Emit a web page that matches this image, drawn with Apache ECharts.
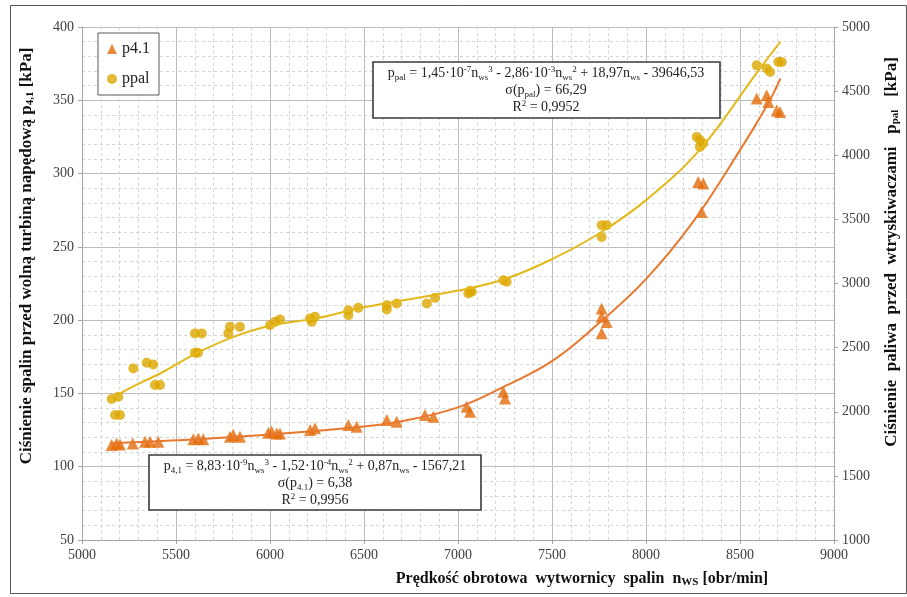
<!DOCTYPE html>
<html>
<head>
<meta charset="utf-8">
<script src="https://cdn.jsdelivr.net/npm/echarts@6/dist/echarts.min.js"></script>
<style>
html,body{margin:0;padding:0;background:#fff;}
#c{width:907px;height:597px;}
</style>
</head>
<body>
<div id="c"></div>
<script>
// ---- axis ranges [min, max, interval] ----
const xRange = [5000, 9000, 500];
const yLeftRange = [50, 400, 50];
const yRightRange = [1000, 5000, 500];

// ---- p4.1 measurements (left axis, kPa) ----
const p41_n = [5158,5184,5202,5270,5335,5362,5406,5592,5619,5645,5787,5805,5840,5991,6009,6036,6053,6213,6239,6417,6461,6621,6674,6824,6869,7046,7064,7241,7250,7764,7764,7791,7764,8278,8305,8296,8589,8642,8651,8695,8713];
const p41_v = [114.8,115.9,115.2,115.9,117.0,117.0,117.0,118.7,119.3,118.7,120.4,121.6,120.4,123.2,123.8,122.7,122.7,125.0,126.2,128.4,127.3,131.8,130.7,135.2,134.1,140.9,137.5,151.1,146.6,208,202.3,198.8,191,294.3,293.2,273.8,351.2,353.4,348.8,343,342];

// ---- ppal measurements (right axis, kPa) ----
const ppal_n = [5158,5193,5176,5202,5273,5344,5379,5388,5415,5601,5637,5601,5617,5787,5840,5778,6000,6027,6053,6213,6239,6222,6417,6417,6470,6621,6621,6674,6834,6878,7055,7064,7073,7241,7259,7764,7791,7764,8270,8287,8287,8305,8589,8642,8660,8704,8722];
const ppal_v = [2099,2117,1974,1974,2338,2382,2369,2208,2208,2611,2611,2460,2460,2662,2662,2611,2675,2701,2720,2728,2740,2701,2792,2753,2810,2831,2798,2844,2844,2888,2922,2943,2935,3026,3013,3455,3455,3363,4143,4117,4065,4091,4701,4676,4649,4727,4727];

// ---- trend lines ----
const p41_trend_n = [5150,5500,6000,6500,6700,7000,7250,7500,7750,8000,8250,8500,8650,8715];
const p41_trend_v = [116,118,122,127.5,131,140.5,155,172,198,228,267,316,348,365];
const ppal_trend_n = [5140,5250,5430,5600,5800,6000,6250,6500,7000,7250,7500,7750,8000,8290,8590,8715];
const ppal_trend_v = [2090,2180,2310,2450,2580,2670,2730,2815,2945,3035,3190,3390,3650,4050,4645,4885];

const zip = (a,b) => a.map((v,i)=>[v,b[i]]);

const SERIF = '"Liberation Serif","DejaVu Serif",serif';
const ORANGE = '#E46C0A';
const ORANGE_LINE = '#E8782E';
const GOLD = '#DCA800';
const GOLD_LINE = '#E3B81A';

const chart = echarts.init(document.getElementById('c'), null, {renderer:'canvas'});

const axisLbl = {fontFamily: SERIF, fontSize: 14, color: '#404040', formatter: v => String(v)};
const minorSplit = {show:true, lineStyle:{color:'#d4d4d4', type:[3,3], width:1}};
const majorSplit = {show:true, lineStyle:{color:'#bdbdbd', width:1}};

const subRich = {
  sub: {fontFamily: SERIF, fontSize: 11, fontWeight: 'bold', verticalAlign: 'bottom', padding:[6,0,0,0]},
};

function boxTextRich(size){
  return {
    sub: {fontFamily: SERIF, fontSize: size-5, verticalAlign:'bottom', padding:[5,0,0,0], lineHeight: 17},
    sup: {fontFamily: SERIF, fontSize: size-5, verticalAlign:'top', padding:[0,0,5,0], lineHeight: 17},
  };
}

const option = {
  animation: false,
  backgroundColor: '#fff',
  grid: {left: 82, right: 73, top: 27, bottom: 57, containLabel: false},
  legend: {
    data: [{name:'p4.1', icon:'triangle'}, {name:'ppal', icon:'circle'}],
    orient: 'vertical', left: 98, top: 33,
    itemWidth: 10, itemHeight: 10, itemGap: 14,
    padding: [8, 9, 8, 9],
    borderColor: '#595959', borderWidth: 1, backgroundColor: '#fff',
    textStyle: {fontFamily: SERIF, fontSize: 16, color: '#222'}
  },
  xAxis: {
    type: 'value', min: xRange[0], max: xRange[1], interval: xRange[2],
    axisLine: {show:true, lineStyle:{color:'#a6a6a6'}},
    axisTick: {show:true, length:4, lineStyle:{color:'#a6a6a6'}},
    axisLabel: Object.assign({margin: 8}, axisLbl),
    splitLine: majorSplit,
    minorTick: {show:false, splitNumber:5},
    minorSplitLine: minorSplit
  },
  yAxis: [
    {
      type: 'value', min: yLeftRange[0], max: yLeftRange[1], interval: yLeftRange[2],
      position: 'left',
      axisLine: {show:true, lineStyle:{color:'#a6a6a6'}},
      axisTick: {show:true, length:4, lineStyle:{color:'#a6a6a6'}},
      axisLabel: Object.assign({margin: 8}, axisLbl),
      splitLine: majorSplit,
      minorTick: {show:false, splitNumber:5},
      minorSplitLine: minorSplit
    },
    {
      type: 'value', min: yRightRange[0], max: yRightRange[1], interval: yRightRange[2],
      position: 'right',
      axisLine: {show:true, lineStyle:{color:'#a6a6a6'}},
      axisTick: {show:true, length:4, lineStyle:{color:'#a6a6a6'}},
      axisLabel: Object.assign({margin: 8}, axisLbl),
      splitLine: {show:false}
    }
  ],
  series: [
    {
      name: 'p4.1', type: 'scatter', yAxisIndex: 0,
      symbol: 'triangle', symbolSize: 12,
      itemStyle: {color: ORANGE},
      data: zip(p41_n, p41_v), z: 3
    },
    {
      name: 'ppal', type: 'scatter', yAxisIndex: 1,
      symbol: 'circle', symbolSize: 10,
      itemStyle: {color: GOLD},
      data: zip(ppal_n, ppal_v), z: 3
    },
    {
      name: 'p4.1 trend', type: 'line', yAxisIndex: 0, smooth: 0.4,
      symbol: 'none', lineStyle: {color: ORANGE_LINE, width: 2},
      data: zip(p41_trend_n, p41_trend_v), z: 4, silent: true
    },
    {
      name: 'ppal trend', type: 'line', yAxisIndex: 1, smooth: 0.4,
      symbol: 'none', lineStyle: {color: GOLD_LINE, width: 2},
      data: zip(ppal_trend_n, ppal_trend_v), z: 4, silent: true
    }
  ],
  graphic: [
    // outer frame
    {type:'rect', left: 8, top: 3, shape:{width: 896, height: 588}, style:{fill:'none', stroke:'#555', lineWidth:1}, z: 0, silent:true},
    // left axis name
    {
      type: 'text', x: 27, y: 256, rotation: Math.PI/2, z: 10,
      style: {
        text: 'Ciśnienie spalin przed wolną turbiną napędową p{sub|4,1} [kPa]',
        font: 'bold 17px ' + SERIF, fill: '#111', align: 'center', verticalAlign: 'middle',
        rich: subRich
      }
    },
    // right axis name
    {
      type: 'text', x: 892, y: 252, rotation: Math.PI/2, z: 10,
      style: {
        text: 'Ciśnienie  paliwa  przed  wtryskiwaczami   p{sub|pal}   [kPa]',
        font: 'bold 17px ' + SERIF, fill: '#111', align: 'center', verticalAlign: 'middle',
        rich: subRich
      }
    },
    // x axis name
    {
      type: 'text', x: 582, y: 579, z: 10,
      style: {
        text: 'Prędkość obrotowa  wytwornicy  spalin  n{sub|WS} [obr/min]',
        font: 'bold 16px ' + SERIF, fill: '#111', align: 'center', verticalAlign: 'middle',
        rich: subRich
      }
    },
    // top equation box
    {type:'rect', z: 20, shape:{x:373, y:62, width:347, height:56}, style:{fill:'#ffffff', stroke:'#3a3a3a', lineWidth:1.6}},
    {
      type:'text', x: 546, y: 65, z: 21,
      style: {
        text: 'p{sub|pal} = 1,45·10{sup|-7}n{sub|ws}{sup|3} - 2,86·10{sup|-3}n{sub|ws}{sup|2} + 18,97n{sub|ws} - 39646,53\nσ(p{sub|pal}) = 66,29\nR{sup|2} = 0,9952',
        font: '14px ' + SERIF, fill: '#222', align: 'center', verticalAlign: 'top', lineHeight: 16,
        rich: boxTextRich(14)
      }
    },
    // bottom equation box
    {type:'rect', z: 20, shape:{x:149, y:455, width:332, height:55}, style:{fill:'#ffffff', stroke:'#3a3a3a', lineWidth:1.6}},
    {
      type:'text', x: 315, y: 458, z: 21,
      style: {
        text: 'p{sub|4,1} = 8,83·10{sup|-9}n{sub|ws}{sup|3} - 1,52·10{sup|-4}n{sub|ws}{sup|2} + 0,87n{sub|ws} - 1567,21\nσ(p{sub|4.1}) = 6,38\nR{sup|2} = 0,9956',
        font: '14px ' + SERIF, fill: '#222', align: 'center', verticalAlign: 'top', lineHeight: 16,
        rich: boxTextRich(14)
      }
    }
  ]
};
chart.setOption(option);
</script>
</body>
</html>
